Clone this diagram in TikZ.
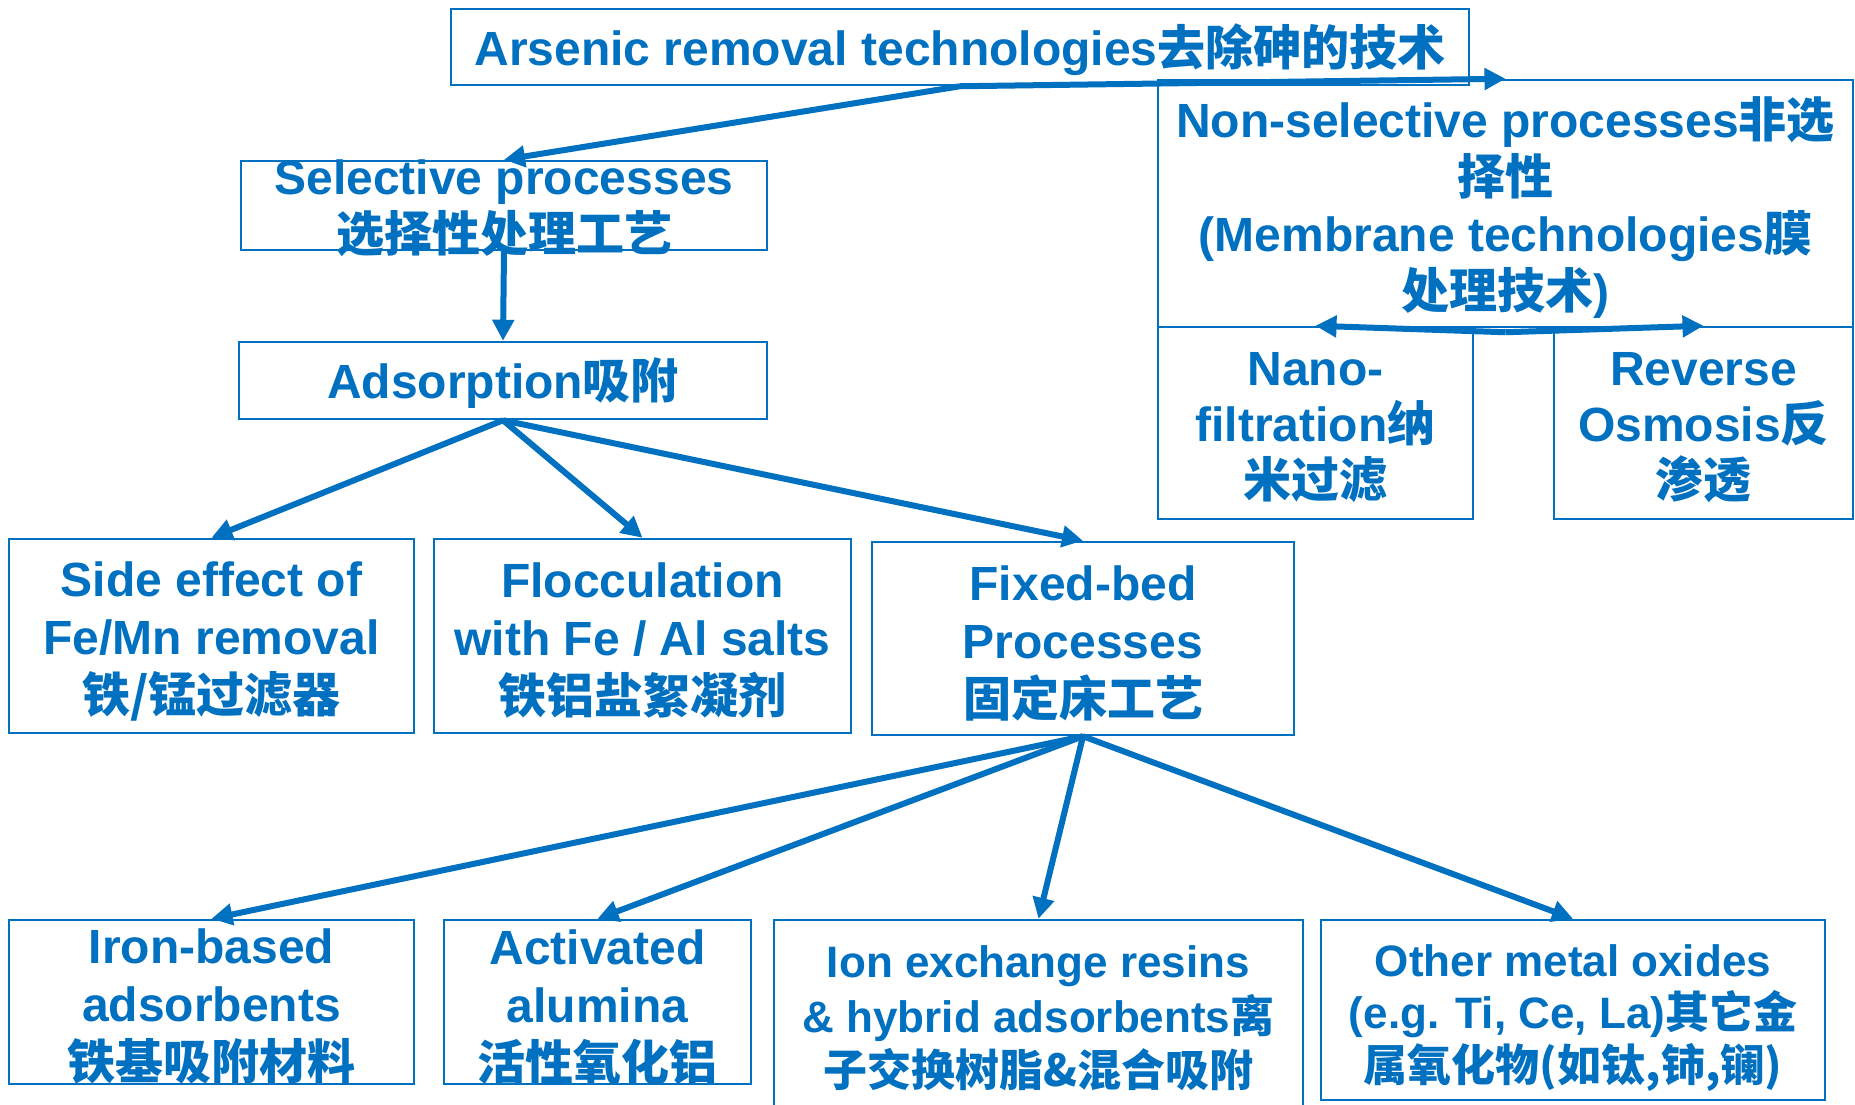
\documentclass[tikz,border=0pt]{standalone}
\usepackage{fontspec}
\setmainfont{Liberation Sans}
\newfontfamily\cjk{Noto Sans CJK SC}
\usetikzlibrary{arrows.meta}
\definecolor{pblue}{HTML}{0070C0}
\newcommand\zhs[1]{{\cjk #1}}
\begin{document}
\begin{tikzpicture}[x=1pt,y=-1pt,
  box/.style={draw=pblue, line width=2.5pt, inner sep=0pt},
  txt/.style={inner sep=0pt, align=center, text=pblue, font=\bfseries\fontsize{48}{58}\selectfont},
  small/.style={font=\bfseries\fontsize{44}{54.5}\selectfont},
  conn/.style={draw=pblue, line width=6pt, -{Triangle[length=21pt,width=21pt]}}]
\useasboundingbox (0,0) rectangle (1855,1104);
\fill[white] (0,0) rectangle (1855,1104);
% boxes
\node[box, minimum width=1018pt, minimum height=76pt] (top) at (960,47) {};
\node[box, minimum width=695pt, minimum height=247pt] (nonsel) at (1505.5,203.5) {};
\node[box, minimum width=526pt, minimum height=89pt] (sel) at (504,205.5) {};
\node[box, minimum width=528pt, minimum height=77pt] (ads) at (503,380.5) {};
\node[box, minimum width=315pt, minimum height=192pt] (nano) at (1315.5,423) {};
\node[box, minimum width=299pt, minimum height=192pt] (rev) at (1703.5,423) {};
\node[box, minimum width=405pt, minimum height=194pt] (side) at (211.5,636) {};
\node[box, minimum width=417pt, minimum height=194pt] (floc) at (642.5,636) {};
\node[box, minimum width=422pt, minimum height=193pt] (fixed) at (1083,638.5) {};
\node[box, minimum width=405pt, minimum height=164pt] (iron) at (211.5,1002) {};
\node[box, minimum width=307pt, minimum height=164pt] (alum) at (597.5,1002) {};
\node[box, minimum width=529pt, minimum height=195pt] (ion) at (1038.5,1017.5) {};
\node[box, minimum width=504pt, minimum height=180pt] (other) at (1573,1010) {};
% texts
\node[txt] (topt) at ([yshift=-3pt]top.center)
  {Arsenic removal technologies\zhs{去除砷的技术}};
\node[txt, font=\bfseries\fontsize{48}{57}\selectfont] (nonselt) at ([yshift=-4pt]nonsel.center)
  {Non-selective processes\zhs{非选}\\\zhs{择性}\\(Membrane technologies\zhs{膜}\\\zhs{处理技术})};
\node[txt, font=\bfseries\fontsize{48}{57}\selectfont] (selt) at ([yshift=-3pt]sel.center)
  {Selective processes\\\zhs{选择性处理工艺}};
\node[txt] (adst) at ([yshift=-3pt]ads.center) {Adsorption\zhs{吸附}};
\node[txt, font=\bfseries\fontsize{48}{56}\selectfont] (nanot) at ([yshift=-5pt]nano.center)
  {Nano-\\filtration\zhs{纳}\\\zhs{米过滤}};
\node[txt, font=\bfseries\fontsize{48}{56}\selectfont] (revt) at ([yshift=-5pt]rev.center)
  {Reverse\\Osmosis\zhs{反}\\\zhs{渗透}};
\node[txt] (sidet) at ([yshift=-5pt]side.center)
  {Side effect of\\Fe/Mn removal\\\zhs{铁/锰过滤器}};
\node[txt] (floct) at ([yshift=-5pt]floc.center)
  {Flocculation\\with Fe / Al salts\\\zhs{铁铝盐絮凝剂}};
\node[txt] (fixedt) at ([yshift=-5pt]fixed.center)
  {Fixed-bed\\Processes\\\zhs{固定床工艺}};
\node[txt] (iront) at ([yshift=-5pt]iron.center)
  {Iron-based\\adsorbents\\\zhs{铁基吸附材料}};
\node[txt] (alumt) at ([yshift=-5pt]alum.center)
  {Activated\\alumina\\\zhs{活性氧化铝}};
\node[txt, small] (iont) at ([yshift=-1pt]ion.center)
  {Ion exchange resins\\\& hybrid adsorbents\zhs{离}\\\zhs{子交换树脂\&混合吸附}};
\node[txt, small, font=\bfseries\fontsize{44}{52.5}\selectfont] (othert) at ([yshift=-8pt]other.center)
  {Other metal oxides\\(e.g. Ti, Ce, La)\zhs{其它金}\\\zhs{属氧化物(如钛,铈,镧)}};
% connectors
\draw[conn] (top.south) -- (sel.north);
\draw[conn] (top.south) -- (nonsel.north);
\draw[conn] ([yshift=-4pt]nonsel.south) -- (nano.north);
\draw[conn] ([yshift=-4pt]nonsel.south) -- (rev.north);
\draw[conn] (sel.south) -- (ads.north);
\draw[conn] (ads.south) -- (side.north);
\draw[conn] (ads.south) -- (floc.north);
\draw[conn] (ads.south) -- (fixed.north);
\draw[conn] (fixed.south) -- (iron.north);
\draw[conn] (fixed.south) -- (alum.north);
\draw[conn] (fixed.south) -- (ion.north);
\draw[conn] (fixed.south) -- (other.north);
\end{tikzpicture}
\end{document}
